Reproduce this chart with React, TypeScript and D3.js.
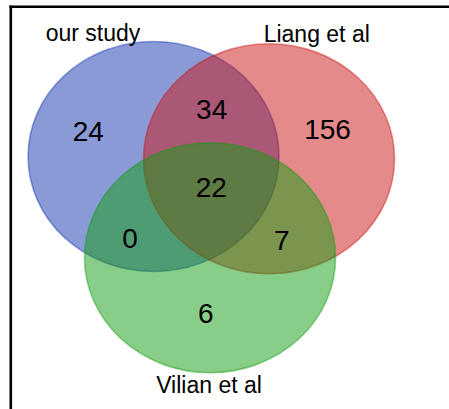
import React from 'react';
import * as d3 from 'd3';

// set names and their colours
const setNames = ['our study', 'Liang et al', 'Vilian et al'];
const setColors = ['#1535ad', '#c91515', '#119d11'];

// region counts
const regionKeys = ['A', 'AB', 'B', 'ABC', 'AC', 'BC', 'C'];
const regionCounts = [24, 34, 156, 22, 0, 7, 6];

// layout in venn units (radius = 1), stretched to ellipses by the scales
const setCenters: [number, number][] = [
  [-0.46, -0.3],
  [0.46, -0.28],
  [-0.01, 0.58],
];
const setLabelPos: [number, number][] = [
  [-0.943, -1.307],
  [0.84, -1.293],
  [-0.018, 1.759],
];
const regionLabelPos: [number, number][] = [
  [-0.98, -0.435],
  [0.003, -0.626],
  [0.926, -0.452],
  [0, 0.052],
  [-0.648, 0.496],
  [0.561, 0.513],
  [-0.044, 1.148],
];

const width = 449;
const height = 409;

export default function App() {
  const sx = d3.scaleLinear().domain([-1, 1]).range([211.3 - 125.5, 211.3 + 125.5]);
  const sy = d3.scaleLinear().domain([-1, 1]).range([191 - 115, 191 + 115]);
  const rx = sx(1) - sx(0);
  const ry = sy(1) - sy(0);

  return (
    <svg
      width={width}
      height={height}
      style={{ position: 'absolute', left: 0, top: 0, background: '#fff' }}
      fontFamily="'Liberation Sans', Arial, sans-serif"
    >
      <rect width={width} height={height} fill="#fff" />
      {/* frame */}
      <line x1={10.8} x2={10.8} y1={5.5} y2={height} stroke="#000" strokeWidth={2.6} />
      <line x1={9.5} x2={width} y1={6.7} y2={6.7} stroke="#000" strokeWidth={2.6} />

      {setNames.map((name, i) => (
        <ellipse
          key={name}
          cx={sx(setCenters[i][0])}
          cy={sy(setCenters[i][1])}
          rx={rx}
          ry={ry}
          fill={setColors[i]}
          fillOpacity={0.5}
          stroke={setColors[i]}
          strokeOpacity={0.45}
          strokeWidth={1.6}
        />
      ))}

      {regionKeys.map((k, i) => (
        <text
          key={k}
          x={sx(regionLabelPos[i][0])}
          y={sy(regionLabelPos[i][1])}
          textAnchor="middle"
          fontSize={28}
          fill="#000"
        >
          {regionCounts[i]}
        </text>
      ))}

      {setNames.map((name, i) => (
        <text
          key={name + '-label'}
          x={sx(setLabelPos[i][0])}
          y={sy(setLabelPos[i][1])}
          textAnchor="middle"
          fontSize={23}
          fill="#000"
        >
          {name}
        </text>
      ))}
    </svg>
  );
}
